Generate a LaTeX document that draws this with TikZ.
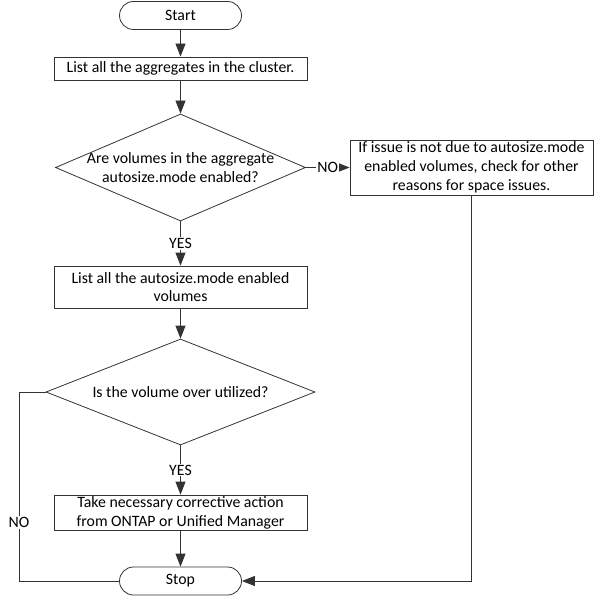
\documentclass[tikz,border=0pt]{standalone}
\usepackage{fontspec}
\setmainfont{Carlito}
\usetikzlibrary{shapes, arrows.meta}

\begin{document}
\begin{tikzpicture}[x=1pt, y=-1pt,
  font=\fontsize{15.8}{18.8}\selectfont,
  terminal/.style={draw=black!80, line width=0.8pt, rounded rectangle, minimum width=122pt, minimum height=28pt, inner sep=0pt},
  process/.style={draw=black!80, line width=0.8pt, rectangle, align=center, inner sep=0pt, minimum width=253pt},
  decision/.style={draw=black!80, line width=0.8pt, diamond, inner sep=0pt},
  flow/.style={draw=black!80, line width=0.8pt, -{Triangle[length=13pt, width=10pt]}},
  link/.style={draw=black!80, line width=0.8pt},
  answer/.style={fill=white, inner sep=1pt}]

\useasboundingbox (0,0) rectangle (598,599);

\node[terminal] (start) at (180.5,15.5) {Start};
\node[process, minimum height=23pt] (listaggr) at (180.5,68.5) {List all the aggregates in the cluster.};

\node[decision, minimum width=250pt, minimum height=107pt] (isauto) at (180.5,167.5) {};
\node[align=center] (isautotext) at (180.5,167.5) {Are volumes in the aggregate\\autosize.mode enabled?};
\node[process, minimum width=243pt, minimum height=55pt] (other) at (471.5,167.5) {If issue is not due to autosize.mode\\enabled volumes, check for other\\reasons for space issues.};

\node[process, minimum height=42pt] (listvol) at (180.5,287) {List all the autosize.mode enabled\\volumes};

\node[decision, minimum width=269pt, minimum height=106pt] (over) at (180.5,392) {};
\node (overtext) at (180.5,392) {Is the volume over utilized?};

\node[process, minimum height=35pt] (action) at (180.5,512.5) {Take necessary corrective action\\from ONTAP or Unified Manager};
\node[terminal] (stop) at (180.5,581) {Stop};

\coordinate (noturn) at (19,392);

\draw[flow] (start) -- (listaggr);
\draw[flow] (listaggr) -- (isauto);
\draw[flow] (isauto) -- node[answer] {NO} (other);
\draw[flow] (isauto) -- node[answer] {YES} (listvol);
\draw[flow] (listvol) -- (over);
\draw[flow] (over) -- node[answer] {YES} (action);
\draw[flow] (action) -- (stop);
\draw[link] (over.west) -- (noturn) -- node[answer, pos=0.69] {NO} (noturn |- stop) -- (stop.west);
\draw[flow] (other.south) |- (stop.east);

\end{tikzpicture}
\end{document}
